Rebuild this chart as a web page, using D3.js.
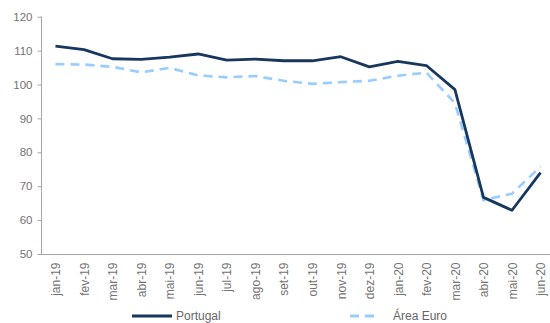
<!DOCTYPE html>
<html>
<head>
<meta charset="utf-8">
<script src="https://cdn.jsdelivr.net/npm/d3@7"></script>
<style>
  body { margin: 0; background: #fff; }
  svg { display: block; font-family: "Liberation Sans", Arial, sans-serif; }
  .axis path, .axis line { stroke: #a6a6a6; }
  .axis text { fill: #737373; font-size: 11px; }
</style>
</head>
<body>
<svg width="550" height="323"></svg>
<script>
const months = ['jan-19','fev-19','mar-19','abr-19','mai-19','jun-19','jul-19','ago-19','set-19','out-19',
  'nov-19','dez-19','jan-20','fev-20','mar-20','abr-20','mai-20','jun-20'];
const portugal = [111.3, 110.3, 107.6, 107.4, 108.1, 109.0, 107.2, 107.5, 107.0, 107.0,
  108.2, 105.2, 106.8, 105.6, 98.5, 66.7, 62.9, 74.0];
const areaEuro = [106.0, 105.9, 105.2, 103.6, 104.9, 102.7, 102.1, 102.5, 101.1, 100.2,
  100.7, 101.1, 102.6, 103.5, 94.5, 65.9, 67.8, 75.8];
const yTicks = [50, 60, 70, 80, 90, 100, 110, 120];

const svg = d3.select('svg');

const x = d3.scalePoint()
    .domain(months)
    .range([41.2, 554.8])
    .padding(0.5);

const y = d3.scaleLinear()
    .domain([50, 120])
    .range([254, 16.7]);

// y axis
svg.append('g')
    .attr('class', 'axis')
    .attr('transform', 'translate(41.5,0)')
    .call(d3.axisLeft(y).tickValues(yTicks).tickSize(4).tickSizeOuter(0).tickPadding(5))
    .call(g => g.select('.domain').attr('d', `M0,${y(120)}V${y(50)}`))
    .selectAll('text').style('font-size', '11.5px');

// x axis (no tick marks)
const xAxis = svg.append('g')
    .attr('class', 'axis')
    .attr('transform', 'translate(0,254.5)')
    .call(d3.axisBottom(x).tickSize(0).tickSizeOuter(0));

xAxis.select('.domain').attr('d', 'M41,0H554');

xAxis.selectAll('text')
    .attr('transform', 'rotate(-90)')
    .attr('text-anchor', 'end')
    .attr('dx', '-8')
    .attr('dy', '0.35em')
    .attr('x', 0)
    .attr('y', 0)
    .style('font-size', '12px');

const line = d3.line()
    .x((d, i) => x(months[i]))
    .y(d => y(d));

svg.append('path')
    .datum(areaEuro)
    .attr('fill', 'none')
    .attr('stroke', '#99ccff')
    .attr('stroke-width', 2.6)
    .attr('stroke-dasharray', '9,6')
    .attr('d', line);

svg.append('path')
    .datum(portugal)
    .attr('fill', 'none')
    .attr('stroke', '#17375e')
    .attr('stroke-width', 2.8)
    .attr('stroke-linejoin', 'round')
    .attr('d', line);

// legend
const legend = [
  { name: 'Portugal', color: '#17375e', dash: null, x1: 132, x2: 172, tx: 176 },
  { name: 'Área Euro', color: '#99ccff', dash: '9,6', x1: 350, x2: 379, tx: 393 }
];

const lg = svg.append('g').selectAll('g').data(legend).enter().append('g');
lg.append('line')
    .attr('x1', d => d.x1).attr('x2', d => d.x2)
    .attr('y1', 316).attr('y2', 316)
    .attr('stroke', d => d.color)
    .attr('stroke-width', 2.8)
    .attr('stroke-dasharray', d => d.dash);
lg.append('text')
    .attr('x', d => d.tx)
    .attr('y', 316)
    .attr('dy', '0.35em')
    .attr('fill', '#666')
    .style('font-size', '12px')
    .text(d => d.name);
</script>
</body>
</html>
